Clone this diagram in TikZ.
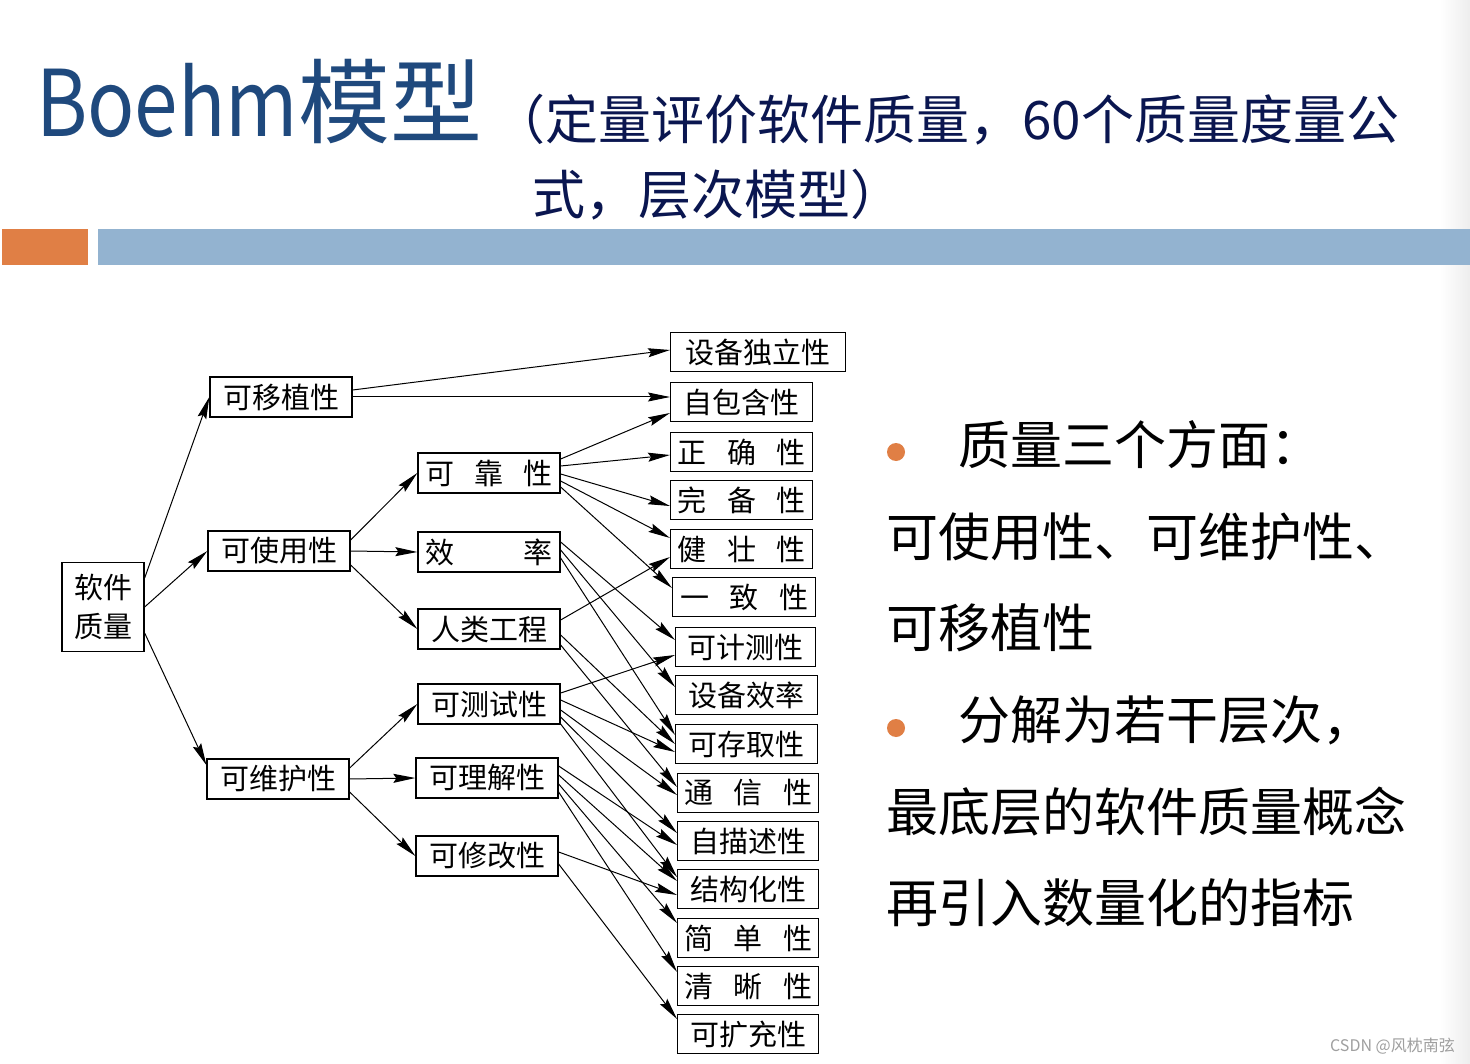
\documentclass[tikz,border=0pt]{standalone}
\usepackage{fontspec}
\setmainfont{Noto Sans CJK SC}
\usepackage{tikz}
\usetikzlibrary{arrows.meta,positioning}

\definecolor{titleblue}{HTML}{1F497D}
\definecolor{subnavy}{HTML}{0A1650}
\definecolor{accentorange}{HTML}{E07F45}
\definecolor{barblue}{HTML}{93B3D0}

\newcommand{\spreadtxt}[1]{\hbox to 128pt{#1}}

\begin{document}
\begin{tikzpicture}[x=1pt, y=-1pt,
  %% ── Node styles (1 unit = 1 px of the slide) ────────────────────────────
  %% box  : thin black frame, serif-sized CJK text
  %% leaf : bottom-level metric, min-width 142 → anchored at its west side
  box/.style={draw, line width=1.3pt, inner sep=0pt, minimum height=39pt,
              font=\fontsize{29}{32}\selectfont},
  leaf/.style={box, anchor=west, minimum width=142pt},
  mid/.style={box, minimum width=142pt, minimum height=40pt},
  bodytxt/.style={anchor=west, inner sep=0pt, font=\fontsize{52}{60}\selectfont},
  bulletdot/.style={circle, fill=accentorange, minimum size=18pt, inner sep=0pt},
  %% ── Arrow style ─────────────────────────────────────────────────────────
  arr/.style={-{Stealth[length=22pt,width=9pt,inset=3pt]}, line width=1pt}
]

%% ── Page frame ──────────────────────────────────────────────────────────────
\useasboundingbox (0,0) rectangle (1470,1064);
\fill[white] (0,0) rectangle (1470,1064);
\shade[left color=white, right color=black!7] (1440,0) rectangle (1470,1064);

%% ── Title ───────────────────────────────────────────────────────────────────
\node[anchor=base west, inner sep=0pt, text=titleblue,
      font=\fontsize{92}{92}\selectfont] (title) at (36,137)
      {{\addfontfeature{FakeStretch=0.85}Boehm}模型};
\node[anchor=base west, inner sep=0pt, text=subnavy,
      font=\fontsize{53}{53}\selectfont] (sub1) at (492,140)
      {（定量评价软件质量，60个质量度量公};
\node[anchor=base west, inner sep=0pt, text=subnavy,
      font=\fontsize{53}{53}\selectfont] (sub2) at (532,215)
      {式，层次模型）};

%% ── Title bars (y = 229 … 265) ──────────────────────────────────────────────
\fill[accentorange] (2,229) rectangle (88,265);
\fill[barblue] (98,229) rectangle (1470,265);

%% ── ROOT ────────────────────────────────────────────────────────────────────
\node[box, minimum width=82pt, minimum height=89pt, align=center,
      font=\fontsize{29}{39}\selectfont] (sq) at (103,607) {软件\\质量};

%% ── LEVEL 1  (x ≈ 280) ──────────────────────────────────────────────────────
\node[mid] (port) at (281,397) {可移植性};
\node[mid] (usab) at (279,551) {可使用性};
\node[mid] (main) at (278,779) {可维护性};

%% ── LEVEL 2  (x ≈ 489) ──────────────────────────────────────────────────────
\node[mid] (rel)  at (489,473) {\spreadtxt{可\hfil 靠\hfil 性}};
\node[mid] (eff)  at (489,552) {\spreadtxt{效\hfil 率}};
\node[mid] (hum)  at (489,629) {人类工程};
\node[mid] (test) at (489,704) {可测试性};
\node[mid] (und)  at (487,778) {可理解性};
\node[mid] (mod)  at (487,856) {可修改性};

%% ── LEAVES  (west side x ≈ 670 … 677) ───────────────────────────────────────
\node[leaf, minimum width=175pt] (devind) at (670,352) {设备独立性};
\node[leaf] (selfc)  at (670,402)  {自包含性};
\node[leaf] (accu)   at (670,452)  {\spreadtxt{正\hfil 确\hfil 性}};
\node[leaf] (compl)  at (670,500)  {\spreadtxt{完\hfil 备\hfil 性}};
\node[leaf] (robu)   at (670,549)  {\spreadtxt{健\hfil 壮\hfil 性}};
\node[leaf, minimum width=143pt] (cons) at (672,597) {\spreadtxt{一\hfil 致\hfil 性}};
\node[leaf, minimum width=140pt] (acct) at (675,647) {可计测性};
\node[leaf] (deveff) at (675,695)  {设备效率};
\node[leaf] (accs)   at (675,744)  {可存取性};
\node[leaf, minimum width=141pt] (comm)  at (677,793)  {\spreadtxt{通\hfil 信\hfil 性}};
\node[leaf, minimum width=141pt] (selfd) at (677,841)  {自描述性};
\node[leaf, minimum width=141pt] (struc) at (677,889)  {结构化性};
\node[leaf, minimum width=141pt] (conc)  at (677,938)  {\spreadtxt{简\hfil 单\hfil 性}};
\node[leaf, minimum width=141pt] (legi)  at (677,986)  {\spreadtxt{清\hfil 晰\hfil 性}};
\node[leaf, minimum width=141pt] (augm)  at (677,1034) {可扩充性};

%% ── Right-hand notes ────────────────────────────────────────────────────────
\node[bulletdot] (b1) at (896,452) {};
\node[bodytxt] (n1) at (958,445) {质量三个方面：};
\node[bodytxt] (n2) at (886,537) {可使用性、可维护性、};
\node[bodytxt] (n3) at (886,628) {可移植性};
\node[bulletdot] (b2) at (896,728) {};
\node[bodytxt] (n4) at (958,720) {分解为若干层次，};
\node[bodytxt] (n5) at (886,812) {最底层的软件质量概念};
\node[bodytxt] (n6) at (886,903) {再引入数量化的指标};

\node[anchor=east, inner sep=0pt, text=gray!75,
      font=\fontsize{16}{16}\selectfont] (mark) at (1455,1046) {CSDN @风枕南弦};

%% ── Arrows: root → level 1 ──────────────────────────────────────────────────
\draw[arr] ([yshift=29pt]sq.east)  -- (port.west);
\draw[arr] (sq.east)               -- (usab.west);
\draw[arr] ([yshift=-26pt]sq.east) -- ([yshift=14pt]main.west);

%% ── Arrows: level 1 → level 2 / leaves ──────────────────────────────────────
\draw[arr] ([yshift=7pt]port.east)  -- ([yshift=2pt]devind.west);
\draw[arr] (port.east)              -- ([yshift=5pt]selfc.west);
\draw[arr] ([yshift=11pt]usab.east) -- (rel.west);
\draw[arr] (usab.east)              -- (eff.west);
\draw[arr] ([yshift=-14pt]usab.east) -- (hum.west);
\draw[arr] ([yshift=11pt]main.east) -- (test.west);
\draw[arr] (main.east)              -- (und.west);
\draw[arr] ([yshift=-13pt]main.east) -- (mod.west);

%% ── Arrows: reliability ─────────────────────────────────────────────────────
\draw[arr] ([yshift=14pt]rel.east)  -- ([yshift=-11pt]selfc.west);
\draw[arr] ([yshift=7pt]rel.east)   -- ([yshift=-3pt]accu.west);
\draw[arr] ([yshift=-1pt]rel.east)  -- ([yshift=-6pt]compl.west);
\draw[arr] ([yshift=-8pt]rel.east)  -- ([yshift=11pt]robu.west);
\draw[arr] ([yshift=-14pt]rel.east) -- ([yshift=9pt]cons.west);

%% ── Arrows: efficiency ──────────────────────────────────────────────────────
\draw[arr] ([yshift=10pt]eff.east)  -- ([yshift=7pt]acct.west);
\draw[arr] ([yshift=2pt]eff.east)   -- ([yshift=8pt]deveff.west);
\draw[arr] ([yshift=-6pt]eff.east)  -- ([yshift=9pt]accs.west);

%% ── Arrows: human engineering ───────────────────────────────────────────────
\draw[arr] ([yshift=9pt]hum.east)   -- ([yshift=-8pt]robu.west);
\draw[arr] ([yshift=-6pt]hum.east)  -- (accs.west);
\draw[arr] ([yshift=-16pt]hum.east) -- ([yshift=6pt]comm.west);

%% ── Arrows: testability ─────────────────────────────────────────────────────
\draw[arr] ([yshift=11pt]test.east)  -- ([yshift=-8pt]acct.west);
\draw[arr] ([yshift=4pt]test.east)   -- ([yshift=-8pt]accs.west);
\draw[arr] ([yshift=-6pt]test.east)  -- ([yshift=-2pt]comm.west);
\draw[arr] ([yshift=-13pt]test.east) -- ([yshift=8pt]selfd.west);
\draw[arr] ([yshift=-20pt]test.east) -- ([yshift=12pt]struc.west);

%% ── Arrows: understandability ───────────────────────────────────────────────
\draw[arr] ([yshift=12pt]und.east)  -- ([yshift=-4pt]selfd.west);
\draw[arr] ([yshift=3pt]und.east)   -- ([yshift=8pt]struc.west);
\draw[arr] ([yshift=-6pt]und.east)  -- ([yshift=15pt]conc.west);
\draw[arr] ([yshift=-14pt]und.east) -- ([yshift=14pt]legi.west);

%% ── Arrows: modifiability ───────────────────────────────────────────────────
\draw[arr] ([yshift=4pt]mod.east)   -- ([yshift=-6pt]struc.west);
\draw[arr] ([yshift=-8pt]mod.east)  -- ([yshift=15pt]augm.west);

\end{tikzpicture}
\end{document}
